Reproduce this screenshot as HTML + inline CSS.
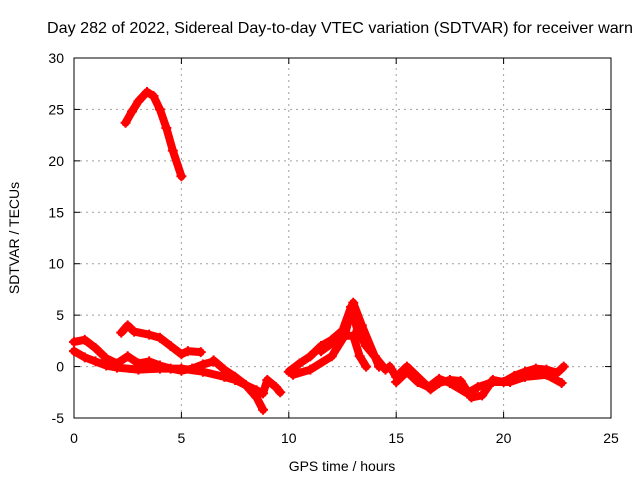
<!DOCTYPE html>
<html><head><meta charset="utf-8"><style>
body{margin:0;background:#fff}
svg{display:block;font-family:"Liberation Sans",sans-serif}
</style></head><body>
<svg id="chart" width="640" height="480">
<rect width="640" height="480" fill="#fff"/>
<text x="47" y="33" font-size="16" textLength="586" lengthAdjust="spacingAndGlyphs">Day 282 of 2022, Sidereal Day-to-day VTEC variation (SDTVAR) for receiver warn</text>
<g id="grid"></g><g id="ticks"></g>
<rect x="74" y="58" width="537" height="360" fill="none" stroke="#000" stroke-width="1"/>
<g id="series"></g>
<text x="342" y="471" font-size="14" text-anchor="middle">GPS time / hours</text>
<text transform="translate(19,238) rotate(-90)" font-size="14" text-anchor="middle">SDTVAR / TECUs</text>
</svg>
<script>
const xTicks=[0,5,10,15,20,25];
const yTicks=[-5,0,5,10,15,20,25,30];
const sA=[[2.4,23.7],[2.7,24.8],[3.0,25.8],[3.4,26.7],[3.7,26.3],[4.0,25],[4.3,23.2],[4.6,21],[5.0,18.5]];
const sB=[[2.2,3.3],[2.5,4.0],[2.8,3.4],[3.5,3.1],[4.0,2.8],[4.5,2.0],[5.0,1.2],[5.3,1.5],[5.9,1.4]];
const sC=[[0,2.4],[0.5,2.6],[1.0,1.8],[1.5,0.8],[2.0,0.3],[2.5,1.0],[3.0,0.3],[3.5,0.5],[4.0,0.1],[4.5,-0.2],[5.0,-0.4],[5.5,-0.2],[6.0,0.2],[6.5,0.5]];
const sD=[[0,1.5],[0.5,0.9],[1.0,0.5],[1.5,0.1],[2.0,-0.1],[3.0,-0.3],[4.0,-0.2],[5.0,-0.2],[6.0,-0.5],[7.0,-1.0],[7.5,-1.3],[8.0,-1.8],[8.5,-3.0],[8.8,-4.2]];
const sE=[[6.5,0.6],[7.0,-0.3],[7.5,-1.0],[8.0,-1.8],[8.5,-2.3],[8.8,-2.6],[9.0,-1.3],[9.4,-2.0],[9.6,-2.5]];
const sF=[[10,-0.5],[10.5,0.3],[11,1.0],[11.5,2.0],[12,2.6],[12.5,3.5],[12.9,5.8],[13.2,3.5],[13.6,2.0],[14,1.0],[14.2,0]];
const sG=[[10.2,-0.8],[11,-0.3],[12,1.0],[12.6,3.0],[13,6.2],[13.4,4],[14,1],[14.5,-0.3]];
const sH=[[11.5,1.5],[12.5,3.0],[13.0,3.0],[13.3,1],[13.6,0]];
const sI=[[14.7,0],[15,-1],[15.5,0],[16,-1],[16.6,-2.2],[17,-1.6],[17.5,-1.3],[18,-1.4],[18.5,-3],[19,-2.8],[19.5,-1.3],[20,-1.5],[20.5,-0.9],[21,-0.5],[21.5,-0.2],[22,-0.3],[22.5,-0.6],[22.8,0]];
const sJ=[[15,-1.5],[15.5,-0.5],[16,-1.5],[16.5,-2],[17,-1.2],[17.5,-1.6],[18.3,-2.6],[18.8,-2],[19.5,-1.5],[20.3,-1.5],[21,-1],[22,-0.8],[22.7,-1.6]];
const allSeries=[sA,sB,sC,sD,sE,sF,sG,sH,sI,sJ];
const NS='http://www.w3.org/2000/svg';
const X0=74,X1=611,Y0=418,Y1=58;
const xs=v=>X0+(v-0)/(25-0)*(X1-X0);
const ys=v=>Y0-(v+5)/(35)*(Y0-Y1);
const grid=document.getElementById('grid'),ticks=document.getElementById('ticks'),ser=document.getElementById('series');
function mk(tag,attrs,parent){const e=document.createElementNS(NS,tag);for(const k in attrs)e.setAttribute(k,attrs[k]);parent.appendChild(e);return e;}
xTicks.forEach(t=>{const x=xs(t);
 if(t>0&&t<25){const g=mk('line',{x1:x,x2:x,y1:Y0,y2:Y1,stroke:'#a0a0a0','stroke-dasharray':'2,4'},grid);
 
 }
 const l=mk('text',{x:x,y:Y0+25,'font-size':'14','text-anchor':'middle'},ticks);l.textContent=t;
 
 
 mk('line',{x1:x,x2:x,y1:Y0,y2:Y0-6,stroke:'#000'},ticks);mk('line',{x1:x,x2:x,y1:Y1,y2:Y1+6,stroke:'#000'},ticks);});
yTicks.forEach(t=>{const y=ys(t);
 if(t>-5&&t<30){const g=mk('line',{x1:X0,x2:X1,y1:y,y2:y,stroke:'#a0a0a0','stroke-dasharray':'2,4'},grid);
 
 }
 const l=mk('text',{x:X0-10,y:y+5,'font-size':'14','text-anchor':'end'},ticks);l.textContent=t;
 
 
 mk('line',{x1:X0,x2:X0+6,y1:y,y2:y,stroke:'#000'},ticks);mk('line',{x1:X1,x2:X1-6,y1:y,y2:y,stroke:'#000'},ticks);});
allSeries.forEach((s,i)=>{
 const p=mk('polyline',{points:s.map(d=>xs(d[0])+','+ys(d[1])).join(' '),fill:'none',stroke:'#ff0000','stroke-width':'8','stroke-linejoin':'round','stroke-linecap':'round'},ser);
 
 
 s.forEach(d=>{const x=xs(d[0]),y=ys(d[1]);
  const m=mk('path',{d:`M${x-5},${y}H${x+5}M${x},${y-5}V${y+5}`,stroke:'#ff0000','stroke-width':'2'},ser);
  
  });
});
</script>
</body></html>
